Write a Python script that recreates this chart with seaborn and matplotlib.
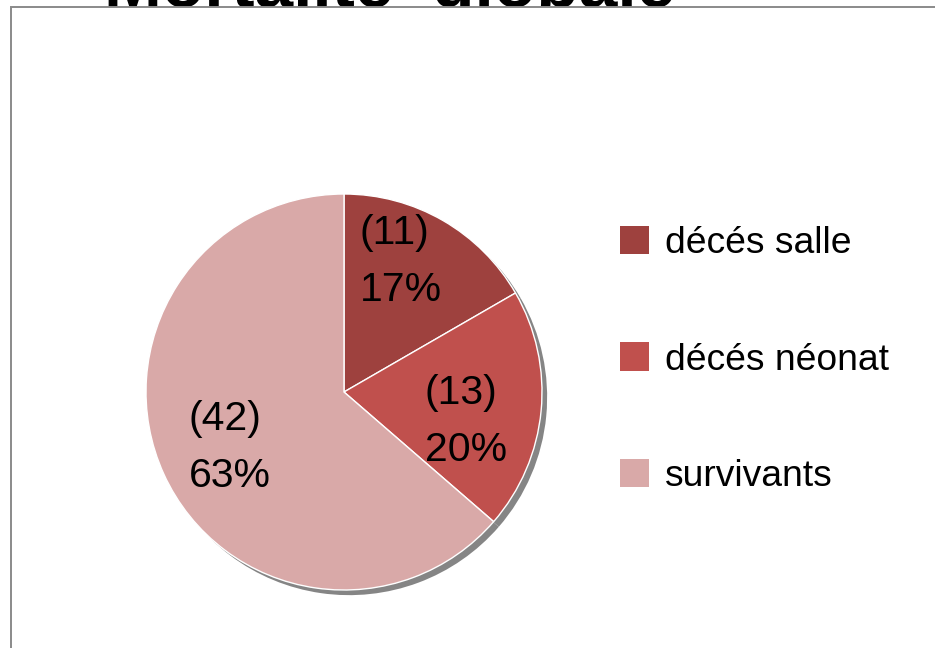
import matplotlib
matplotlib.use("Agg")
import matplotlib.pyplot as plt
from matplotlib.patches import Rectangle, Patch
import seaborn as sns

# Data
categories = ["décés salle", "décés néonat", "survivants"]
counts = [11, 13, 42]
pct_labels = ["17%", "20%", "63%"]
title = "Mortalité  globale"

sns.set_theme(style="white")
plt.rcParams["font.family"] = ["Liberation Sans", "DejaVu Sans"]
plt.rcParams["text.color"] = "black"

palette = sns.color_palette(["#9E413E", "#C0504D", "#D9A9A8"])
shadow_grey = "#858585"

fig = plt.figure(figsize=(9.35, 6.48), dpi=100)
fig.patch.set_facecolor("white")

# Title sits behind the chart area, only its lower edge peeks out
fig.text(0.4166, 1 - 7 / 648, title, ha="center", va="baseline",
         fontsize=50, fontweight="bold", color="black", zorder=0.5)

# Chart area: white panel with grey border covering the title's lower part
panel = Rectangle((10.5 / 935, -0.01), 1.0, 1 - 6.5 / 648 + 0.01,
                  transform=fig.transFigure, facecolor="white",
                  edgecolor="#8a8a8a", linewidth=1.4, zorder=1)
fig.patches.append(panel)

# Pie axes: centre (344, 392) px, radius 198 px, limits +-1.1
r_px = 198
half = 1.1 * r_px
ax = fig.add_axes([(344 - half) / 935, (648 - 392 - half) / 648,
                   2 * half / 935, 2 * half / 648])
ax.set_zorder(2)
ax.patch.set_alpha(0)

# Drop shadow (same wedges, shifted down-right, flat grey)
ax.pie(counts, colors=[shadow_grey] * len(counts), startangle=90,
       counterclock=False, center=(0.026, -0.026),
       wedgeprops=dict(linewidth=0, zorder=0))

wedges, _ = ax.pie(counts, colors=palette, startangle=90, counterclock=False,
                   wedgeprops=dict(edgecolor="white", linewidth=1.0, zorder=1))

ax.set_xlim(-1.1, 1.1)
ax.set_ylim(-1.1, 1.1)
ax.set_aspect("equal")
ax.axis("off")

# Slice labels: count in brackets above percentage
label_pos = [(0.288, 0.66), (0.616, -0.15), (-0.576, -0.28)]
for (x, y), n, p in zip(label_pos, counts, pct_labels):
    ax.text(x, y, f"({n})\n{p}", ha="center", va="center",
            multialignment="left", fontsize=29.5, linespacing=1.62,
            color="black", zorder=3)

handles = [Patch(facecolor=c, edgecolor="none") for c in palette]
leg = fig.legend(handles, categories, loc="center left",
                 bbox_to_anchor=(620 / 935, 1 - 360 / 648),
                 frameon=False, fontsize=26.8, handlelength=0.79,
                 handleheight=0.79, handletextpad=0.42, labelspacing=2.18,
                 borderpad=0, borderaxespad=0, labelcolor="black")
leg.set_zorder(5)

fig.savefig("out.png", dpi=100, facecolor="white")
